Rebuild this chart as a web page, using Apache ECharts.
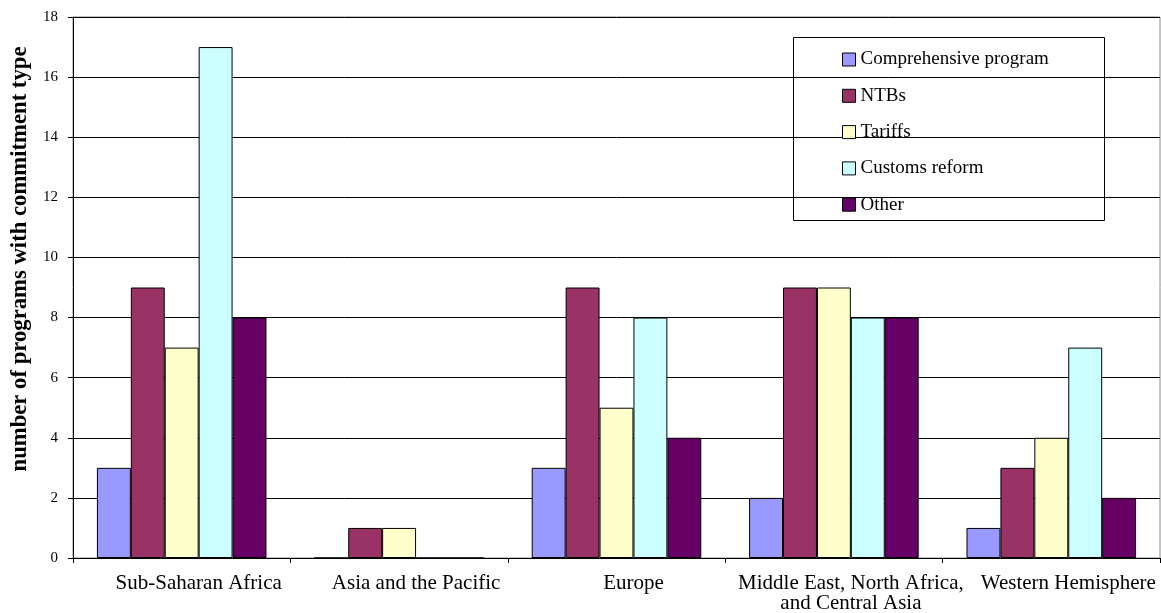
<!DOCTYPE html>
<html>
<head>
<meta charset="utf-8">
<script src="https://cdn.jsdelivr.net/npm/echarts@6/dist/echarts.min.js"></script>
<style>
  html, body { margin: 0; padding: 0; background: #fff; }
  #chart { width: 1161px; height: 613px; }
</style>
</head>
<body>
<div id="chart"></div>
<script>
// Regions and programme counts per commitment type
const regions = [
  'Sub-Saharan Africa',
  'Asia and the Pacific',
  'Europe',
  'Middle East, North Africa,\nand Central Asia',
  'Western Hemisphere'
];
const comprehensive = [3, 0, 3, 2, 1];
const ntbs          = [9, 1, 9, 9, 3];
const tariffs       = [7, 1, 5, 9, 4];
const customs       = [17, 0, 8, 8, 7];
const other         = [8, 0, 4, 8, 2];

const seriesDefs = [
  { name: 'Comprehensive program', data: comprehensive, color: '#9999FF' },
  { name: 'NTBs',                  data: ntbs,          color: '#993366' },
  { name: 'Tariffs',               data: tariffs,       color: '#FFFFCC' },
  { name: 'Customs reform',        data: customs,       color: '#CCFFFF' },
  { name: 'Other',                 data: other,         color: '#660066' }
];

const serif = '"Liberation Serif", "DejaVu Serif", serif';
const chart = echarts.init(document.getElementById('chart'), null, { renderer: 'canvas' });

chart.setOption({
  animation: false,
  textStyle: { fontFamily: serif, color: '#000' },
  grid: {
    left: 73, top: 17, right: 1, bottom: 55,
    outerBoundsMode: 'none',
    containLabel: false,
    show: true, borderColor: '#888', borderWidth: 1
  },
  legend: {
    orient: 'vertical',
    left: 837, top: 45,
    itemWidth: 13, itemHeight: 13,
    itemGap: 17.3,
    icon: 'rect',
    itemStyle: { borderColor: '#000', borderWidth: 1 },
    textStyle: { fontFamily: serif, fontSize: 19, lineHeight: 19, color: '#000' },
    data: seriesDefs.map(s => s.name)
  },
  graphic: [{
    type: 'rect',
    shape: { x: 793.5, y: 37.5, width: 311, height: 183 },
    style: { fill: '#fff', stroke: '#000', lineWidth: 1 },
    z: -1
  }],
  xAxis: {
    type: 'category',
    data: regions,
    boundaryGap: true,
    axisLine: { show: true, lineStyle: { color: '#000', width: 1 } },
    axisTick: { show: true, length: 5, lineStyle: { color: '#000' } },
    axisLabel: {
      fontFamily: serif, fontSize: 21, color: '#000',
      margin: 15, lineHeight: 20, interval: 0,
      padding: [0, 0, 0, 34]
    },
    splitLine: { show: false }
  },
  yAxis: {
    type: 'value',
    min: 0, max: 18, interval: 2,
    name: 'number of programs with commitment type',
    nameLocation: 'middle',
    nameGap: 40,
    nameTextStyle: {
      fontFamily: serif, fontSize: 22.7, fontWeight: 'bold', color: '#000',
      padding: [0, 0, 0, 57]
    },
    axisLine: { show: true, lineStyle: { color: '#000', width: 1 } },
    axisTick: { show: true, length: 5, lineStyle: { color: '#000' } },
    axisLabel: { fontFamily: serif, fontSize: 15, color: '#000', margin: 15 },
    splitLine: { show: true, lineStyle: { color: '#000', width: 1 } }
  },
  series: seriesDefs.map(s => ({
    type: 'bar',
    name: s.name,
    data: s.data,
    barGap: '0%',
    barCategoryGap: '22%',
    itemStyle: { color: s.color, borderColor: '#000', borderWidth: 1 },
    emphasis: { disabled: true }
  }))
});
</script>
</body>
</html>
